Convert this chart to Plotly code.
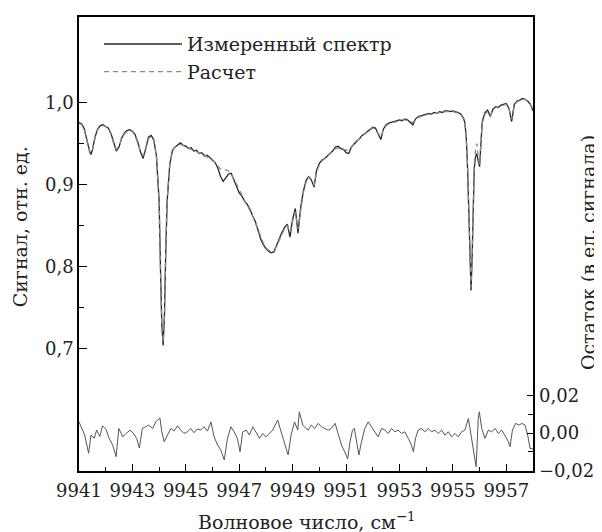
import plotly.graph_objects as go

# ---------------- data ----------------
wavenumber = [
    9941.0, 9941.1, 9941.2, 9941.3, 9941.4, 9941.45, 9941.5, 9941.6, 9941.7, 9941.8, 9941.9,
    9942.0, 9942.1, 9942.2, 9942.3, 9942.4, 9942.5, 9942.6, 9942.7, 9942.8, 9942.9,
    9943.0, 9943.1, 9943.2, 9943.3, 9943.4, 9943.5, 9943.6, 9943.7, 9943.8, 9943.9,
    9944.0, 9944.05, 9944.1, 9944.15, 9944.2, 9944.25, 9944.3, 9944.4, 9944.5, 9944.6, 9944.7, 9944.8, 9944.9,
    9945.0, 9945.1, 9945.2, 9945.3, 9945.4, 9945.5, 9945.6, 9945.7, 9945.8, 9945.9,
    9946.0, 9946.1, 9946.2, 9946.3, 9946.4, 9946.5, 9946.6, 9946.7, 9946.8, 9946.9,
    9947.0, 9947.1, 9947.2, 9947.3, 9947.4, 9947.5, 9947.6, 9947.7, 9947.8, 9947.9,
    9948.0, 9948.1, 9948.2, 9948.3, 9948.4, 9948.5, 9948.6, 9948.7, 9948.8, 9948.9,
    9949.0, 9949.1, 9949.2, 9949.3, 9949.4, 9949.5, 9949.6, 9949.7, 9949.8, 9949.9,
    9950.0, 9950.1, 9950.2, 9950.3, 9950.4, 9950.5, 9950.6, 9950.7, 9950.8, 9950.9,
    9951.0, 9951.1, 9951.2, 9951.3, 9951.4, 9951.5, 9951.6, 9951.7, 9951.8, 9951.9,
    9952.0, 9952.1, 9952.2, 9952.3, 9952.4, 9952.5, 9952.6, 9952.7, 9952.8, 9952.9,
    9953.0, 9953.1, 9953.2, 9953.3, 9953.4, 9953.5, 9953.6, 9953.7, 9953.8, 9953.9,
    9954.0, 9954.1, 9954.2, 9954.3, 9954.4, 9954.5, 9954.6, 9954.7, 9954.8, 9954.9,
    9955.0, 9955.1, 9955.2, 9955.3, 9955.4, 9955.45, 9955.5, 9955.55, 9955.6, 9955.65, 9955.68,
    9955.72, 9955.76, 9955.8, 9955.85, 9955.9, 9955.95, 9956.0, 9956.05, 9956.1, 9956.2,
    9956.3, 9956.4, 9956.5, 9956.6, 9956.7, 9956.8, 9956.9,
    9957.0, 9957.1, 9957.2, 9957.3, 9957.4, 9957.5, 9957.6, 9957.7, 9957.8, 9957.9, 9958.0,
]

measured = [
    0.976, 0.974, 0.968, 0.952, 0.940, 0.937, 0.942, 0.958, 0.968, 0.972, 0.973,
    0.971, 0.969, 0.962, 0.950, 0.941, 0.946, 0.957, 0.963, 0.966, 0.967,
    0.965, 0.961, 0.952, 0.940, 0.932, 0.944, 0.958, 0.960, 0.955, 0.935,
    0.880, 0.800, 0.730, 0.704, 0.740, 0.820, 0.880, 0.925, 0.942, 0.946, 0.949, 0.951, 0.948,
    0.947, 0.944, 0.945, 0.941, 0.942, 0.938, 0.939, 0.935, 0.936, 0.933,
    0.930, 0.927, 0.920, 0.910, 0.904, 0.908, 0.913, 0.914, 0.906, 0.899,
    0.890, 0.886, 0.880, 0.876, 0.870, 0.862, 0.855, 0.845, 0.834, 0.827,
    0.822, 0.819, 0.817, 0.818, 0.827, 0.834, 0.842, 0.848, 0.852, 0.836,
    0.858, 0.871, 0.841, 0.872, 0.892, 0.905, 0.910, 0.906, 0.897, 0.918,
    0.926, 0.930, 0.932, 0.935, 0.937, 0.941, 0.946, 0.947, 0.944, 0.943,
    0.939, 0.938, 0.946, 0.950, 0.953, 0.956, 0.960, 0.962, 0.965, 0.968,
    0.970, 0.969, 0.962, 0.955, 0.968, 0.973, 0.975, 0.976, 0.977, 0.978,
    0.979, 0.978, 0.980, 0.979, 0.976, 0.973, 0.980, 0.983, 0.984, 0.985,
    0.986, 0.987, 0.986, 0.988, 0.987, 0.989, 0.988, 0.990, 0.990, 0.989,
    0.990, 0.989, 0.988, 0.986, 0.981, 0.975, 0.958, 0.920, 0.864, 0.800, 0.771,
    0.810, 0.884, 0.920, 0.934, 0.938, 0.928, 0.922, 0.950, 0.977, 0.988,
    0.991, 0.983, 0.992, 0.995, 0.994, 0.997, 0.998,
    0.999, 0.993, 0.977, 0.998, 1.002, 1.003, 1.005, 1.004, 1.002, 0.998, 0.990,
]

calculated = [
    0.975, 0.973, 0.966, 0.952, 0.941, 0.939, 0.943, 0.957, 0.967, 0.971, 0.972,
    0.971, 0.968, 0.961, 0.950, 0.943, 0.947, 0.956, 0.962, 0.965, 0.966,
    0.965, 0.960, 0.951, 0.941, 0.935, 0.945, 0.956, 0.959, 0.954, 0.934,
    0.878, 0.798, 0.728, 0.708, 0.742, 0.822, 0.882, 0.926, 0.941, 0.946, 0.948, 0.949, 0.948,
    0.946, 0.945, 0.943, 0.942, 0.940, 0.939, 0.937, 0.936, 0.934, 0.932,
    0.930, 0.927, 0.923, 0.919, 0.917, 0.918, 0.917, 0.913, 0.907, 0.900,
    0.893, 0.887, 0.881, 0.875, 0.869, 0.862, 0.854, 0.845, 0.836, 0.829,
    0.823, 0.820, 0.819, 0.820, 0.825, 0.832, 0.840, 0.847, 0.850, 0.842,
    0.856, 0.867, 0.846, 0.870, 0.890, 0.903, 0.909, 0.905, 0.899, 0.916,
    0.924, 0.929, 0.932, 0.935, 0.938, 0.941, 0.944, 0.945, 0.944, 0.943,
    0.942, 0.942, 0.946, 0.950, 0.953, 0.956, 0.959, 0.962, 0.965, 0.967,
    0.969, 0.968, 0.963, 0.958, 0.967, 0.972, 0.974, 0.975, 0.976, 0.977,
    0.978, 0.979, 0.979, 0.978, 0.977, 0.976, 0.979, 0.982, 0.983, 0.984,
    0.985, 0.986, 0.986, 0.987, 0.987, 0.988, 0.988, 0.989, 0.989, 0.989,
    0.989, 0.988, 0.987, 0.985, 0.980, 0.974, 0.958, 0.922, 0.866, 0.802, 0.775,
    0.812, 0.880, 0.922, 0.944, 0.950, 0.930, 0.925, 0.952, 0.975, 0.986,
    0.989, 0.984, 0.991, 0.994, 0.995, 0.996, 0.997,
    0.998, 0.993, 0.980, 0.997, 1.001, 1.003, 1.004, 1.004, 1.002, 0.998, 0.992,
]

residual_wn = [
    9941.00, 9941.09, 9941.21, 9941.36, 9941.45, 9941.57, 9941.66, 9941.78, 9941.88, 9942.01,
    9942.13, 9942.26, 9942.39, 9942.49, 9942.64, 9942.76, 9942.91, 9943.03, 9943.16, 9943.26,
    9943.37, 9943.49, 9943.61, 9943.76, 9943.88, 9944.03, 9944.10, 9944.19, 9944.31, 9944.44,
    9944.56, 9944.69, 9944.81, 9944.93, 9945.06, 9945.18, 9945.31, 9945.43, 9945.56, 9945.68,
    9945.81, 9945.94, 9946.06, 9946.19, 9946.31, 9946.44, 9946.56, 9946.69, 9946.81, 9946.93,
    9947.03, 9947.13, 9947.26, 9947.38, 9947.51, 9947.63, 9947.76, 9947.88, 9948.00, 9948.13,
    9948.25, 9948.38, 9948.44, 9948.53, 9948.63, 9948.75, 9948.83, 9948.94, 9949.07, 9949.19,
    9949.25, 9949.38, 9949.50, 9949.58, 9949.70, 9949.83, 9949.95, 9950.08, 9950.20, 9950.33,
    9950.45, 9950.59, 9950.70, 9950.83, 9950.95, 9951.06, 9951.15, 9951.24, 9951.31, 9951.40,
    9951.48, 9951.58, 9951.70, 9951.83, 9951.95, 9952.08, 9952.20, 9952.33, 9952.45, 9952.58,
    9952.70, 9952.83, 9952.95, 9953.08, 9953.20, 9953.33, 9953.45, 9953.52, 9953.60, 9953.70,
    9953.83, 9953.95, 9954.08, 9954.20, 9954.33, 9954.45, 9954.58, 9954.70, 9954.83, 9954.95,
    9955.08, 9955.20, 9955.33, 9955.45, 9955.58, 9955.64, 9955.77, 9955.87, 9955.95, 9955.99,
    9956.08, 9956.20, 9956.33, 9956.45, 9956.58, 9956.70, 9956.83, 9956.95, 9957.08, 9957.14,
    9957.23, 9957.35, 9957.48, 9957.58, 9957.70, 9957.80, 9957.89, 9958.00,
]

residual = [
    0.0060, 0.0027, -0.0010, -0.0108, -0.0010, -0.0028, 0.0016, -0.0018, 0.0039, 0.0020,
    -0.0028, -0.0064, -0.0126, 0.0025, -0.0020, -0.0002, 0.0016, 0.0000, -0.0028, -0.0080,
    0.0025, 0.0034, 0.0043, 0.0025, 0.0060, 0.0082, 0.0007, -0.0046, -0.0010, 0.0025,
    0.0011, 0.0039, 0.0016, -0.0002, 0.0007, 0.0025, 0.0002, 0.0022, 0.0016, 0.0034,
    0.0011, 0.0060, -0.0020, -0.0064, -0.0090, -0.0144, -0.0028, 0.0034, 0.0007, -0.0028,
    -0.0100, 0.0007, 0.0016, -0.0010, 0.0034, 0.0007, -0.0028, -0.0002, -0.0020, -0.0002,
    0.0016, 0.0052, 0.0070, 0.0025, -0.0028, -0.0080, -0.0117, -0.0010, 0.0060, 0.0016,
    0.0114, 0.0043, 0.0025, 0.0016, 0.0043, 0.0025, 0.0052, 0.0034, 0.0025, 0.0016,
    0.0025, 0.0052, -0.0002, -0.0064, -0.0100, -0.0139, -0.0046, 0.0016, 0.0025, -0.0046,
    -0.0117, -0.0046, 0.0025, 0.0060, 0.0034, 0.0007, -0.0020, 0.0025, 0.0016, -0.0002,
    0.0025, 0.0007, 0.0016, -0.0002, 0.0007, -0.0028, -0.0064, -0.0100, -0.0028, 0.0016,
    0.0025, 0.0007, 0.0025, 0.0007, 0.0016, -0.0002, 0.0016, -0.0011, 0.0007, -0.0020,
    -0.0002, -0.0020, 0.0007, 0.0016, 0.0078, 0.0025, -0.0082, -0.0180, 0.0078, 0.0114,
    0.0025, -0.0028, 0.0016, 0.0007, 0.0025, -0.0002, 0.0016, -0.0011, -0.0046, -0.0073,
    0.0016, 0.0052, 0.0043, 0.0052, 0.0043, -0.0011, -0.0082, -0.0085,
]

x_tick_vals = [9941, 9943, 9945, 9947, 9949, 9951, 9953, 9955, 9957]
x_tick_text = ["9941", "9943", "9945", "9947", "9949", "9951", "9953", "9955", "9957"]
y_tick_vals = [0.7, 0.8, 0.9, 1.0]
y_tick_text = ["0,7", "0,8", "0,9", "1,0"]
y_minor_vals = [0.75, 0.85, 0.95]
r_tick_vals = [-0.02, 0.0, 0.02]
r_tick_text = ["\u22120,02", "0,00", "0,02"]
r_minor_vals = [-0.01, 0.01]

# ---------------- figure ----------------
FONT = "DejaVu Serif"
TXT = "#222222"
fig = go.Figure()

fig.add_trace(go.Scatter(
    x=wavenumber, y=measured, mode="lines", name="Измеренный спектр",
    line=dict(color="#262626", width=1.3),
))
fig.add_trace(go.Scatter(
    x=wavenumber, y=calculated, mode="lines", name="Расчет",
    line=dict(color="#8a8a8a", width=1.3, dash="5px,4px"),
))
fig.add_trace(go.Scatter(
    x=residual_wn, y=residual, mode="lines", name="Остаток", showlegend=False,
    yaxis="y2", line=dict(color="#555555", width=1),
))

# the page body has an 8 px margin, so the figure is 8 px smaller than the window
fig.update_layout(
    width=594, height=524,
    margin=dict(l=71, r=69, t=7, b=61),
    paper_bgcolor="white", plot_bgcolor="white",
    font=dict(family=FONT, size=18, color=TXT),
    showlegend=True,
    legend=dict(
        x=0.044, y=0.982, xanchor="left", yanchor="top",
        bgcolor="rgba(0,0,0,0)", borderwidth=0,
        font=dict(family=FONT, size=19, color=TXT),
        itemwidth=78, tracegroupgap=0,
    ),
    xaxis=dict(
        range=[9941, 9958], tickmode="array", tickvals=x_tick_vals, ticktext=x_tick_text,
        ticks="inside", ticklen=7, tickwidth=1.3, tickcolor="black",
        minor=dict(dtick=1, tick0=9941, ticks="inside", ticklen=4, tickwidth=1.3, tickcolor="black"),
        showline=True, linecolor="black", linewidth=1.5, mirror=True,
        showgrid=False, zeroline=False, ticklabelstandoff=3,
        tickfont=dict(family=FONT, size=18, color=TXT),
    ),
    yaxis=dict(
        range=[0.551, 1.1044], tickmode="array", tickvals=y_tick_vals, ticktext=y_tick_text,
        ticks="inside", ticklen=8, tickwidth=1.3, tickcolor="black",
        minor=dict(tickmode="array", tickvals=y_minor_vals, ticks="inside", ticklen=5,
                   tickwidth=1.3, tickcolor="black"),
        showline=True, linecolor="black", linewidth=1.5, mirror=True,
        showgrid=False, zeroline=False,
        tickfont=dict(family=FONT, size=18, color=TXT),
    ),
    yaxis2=dict(
        overlaying="y", side="right", anchor="x",
        range=[-0.0203, 0.2229], tickmode="array", tickvals=r_tick_vals, ticktext=r_tick_text,
        ticks="inside", ticklen=6, tickwidth=1.3, tickcolor="black",
        minor=dict(tickmode="array", tickvals=r_minor_vals, ticks="inside", ticklen=5,
                   tickwidth=1.3, tickcolor="black"),
        showline=False, showgrid=False, zeroline=False, ticklabelstandoff=5,
        tickfont=dict(family=FONT, size=18, color=TXT),
    ),
    annotations=[
        dict(text="Сигнал, отн. ед.", xref="paper", yref="paper",
             x=-0.130, y=0.539, textangle=-90, showarrow=False,
             xanchor="center", yanchor="middle", font=dict(family=FONT, size=19, color=TXT)),
        dict(text="Остаток (в ед. сигнала)", xref="paper", yref="paper",
             x=1.121, y=0.482, textangle=-90, showarrow=False,
             xanchor="center", yanchor="middle", font=dict(family=FONT, size=19, color=TXT)),
        dict(text="Волновое число, см<sup>−1</sup>", xref="paper", yref="paper",
             x=0.5, y=-0.1096, showarrow=False,
             xanchor="center", yanchor="middle", font=dict(family=FONT, size=19, color=TXT)),
    ],
)

fig.write_html("out.html")
